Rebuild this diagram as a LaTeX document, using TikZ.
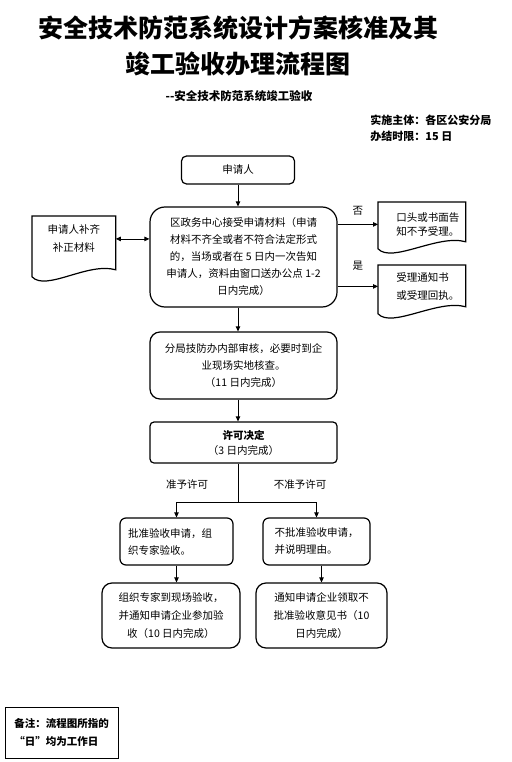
\documentclass[tikz,border=0pt]{standalone}
\usepackage{fontspec}
\setmainfont{Noto Sans CJK SC}
\usetikzlibrary{arrows.meta, positioning, calc}
\tikzset{
  every picture/.style={font=\fontsize{10.5}{17}\selectfont, line width=0.8pt},
  box/.style={draw, rounded corners=#1, align=center, inner sep=3pt, line width=1.2pt},
  box/.default=6pt,
  doc/.style={anchor=north west, inner sep=0pt, align=left},
  docline/.style={line width=1.2pt},
  arrow/.style={-{Triangle[length=5pt, width=4.5pt]}, line width=0.8pt},
  title/.style={font=\fontsize{25}{30}\selectfont\bfseries},
  head/.style={font=\fontsize{11}{16}\selectfont\bfseries, align=left},
  lbl/.style={font=\fontsize{10.5}{12}\selectfont},
}

\begin{document}
\begin{tikzpicture}[x=1pt, y=-1pt]
  \useasboundingbox (0,0) rectangle (511,762);
  % titles
  \node[title, inner sep=0pt] (t1) at (238.5,28) {\makebox[383pt]{安\hfill 全\hfill 技\hfill 术\hfill 防\hfill 范\hfill 系\hfill 统\hfill 设\hfill 计\hfill 方\hfill 案\hfill 核\hfill 准\hfill 及\hfill 其}};
  \node[title] (t2) at (238,64) {竣工验收办理流程图};
  \node[head, font=\fontsize{11.5}{16}\selectfont\bfseries] (sub) at (239,96) {-{}-安全技术防范系统竣工验收};
  \node[head, anchor=north west, inner sep=0pt] (who) at (370,115) {实施主体：各区公安分局\\办结时限：15 日};
  % main column
  \node[box=5pt, minimum width=113pt, minimum height=28pt] (apply) at (238,170) {申请人};
  \node[box=15pt, minimum width=187pt, minimum height=100pt] (accept) at (243.5,257) {区政务中心接受申请材料（申请\\材料不齐全或者不符合法定形式\\的，当场或者在 5 日内一次告知\\申请人，资料由窗口送办公点 1-2\\日内完成）};
  \node[box=10pt, minimum width=187pt, minimum height=67pt] (review) at (243.5,365.5) {分局技防办内部审核，必要时到企\\业现场实地核查。\\（11 日内完成）};
  \node[box=4pt, minimum width=187pt, minimum height=41pt, font=\fontsize{10.5}{15}\selectfont] (decide) at (243.5,442.5) {\textbf{许可决定}\\（3 日内完成）};
  % side documents
  \node[doc, minimum width=83pt, minimum height=45pt, align=center, text width=83pt] (supply) at (32,216) {申请人补齐\\[1pt]补正材料};
  \node[doc, minimum width=87pt, minimum height=44pt, font=\fontsize{10.5}{14}\selectfont] (refuse) at (378,202) {\hspace*{12pt}口头或书面告\\\hspace*{12pt}知不予受理。};
  \node[doc, minimum width=87pt, minimum height=42pt, font=\fontsize{10.5}{18}\selectfont] (notice) at (378,265) {\hspace*{12pt}受理通知书\\\hspace*{12pt}或受理回执。};
  \foreach \n/\e in {supply/15, refuse/2, notice/6}
    \draw[docline] (\n.north west) -- (\n.north east) -- ($(\n.south east)+(0,\e-7)$)
      .. controls ($(\n.south east)+(-28,\e-15)$) and ($(\n.south west)+(14,\e+15)$) .. ($(\n.south west)+(0,\e)$) -- cycle;
  % branches
  \node[box=6pt, minimum width=113pt, minimum height=47pt, text width=97pt, align=left] (grant) at (176.5,541.5) {批准验收申请，组\\织专家验收。};
  \node[box=6pt, minimum width=107pt, minimum height=47pt, align=left] (deny) at (316.5,541.5) {不批准验收申请，\\并说明理由。};
  \node[box=10pt, minimum width=138pt, minimum height=65pt, font=\fontsize{10.5}{18}\selectfont] (grantdo) at (171,615.5) {组织专家到现场验收，\\并通知申请企业参加验\\收（10 日内完成）};
  \node[box=10pt, minimum width=131pt, minimum height=65pt, font=\fontsize{10.5}{18}\selectfont] (denydo) at (321.5,615.5) {通知申请企业领取不\\批准验收意见书（10\\日内完成）};
  \node[lbl] (yes2) at (187,485) {准予许可};
  \node[lbl] (no2) at (300,485) {不准予许可};
  % note
  \node[draw, line width=0.8pt, minimum width=113pt, minimum height=51pt, align=left,
    font=\fontsize{10.5}{18}\selectfont\bfseries] (memo) at (61.5,732.5) {备注：流程图所指的\\“日”均为工作日};
  % connectors
  \draw[arrow] (apply) -- (apply |- accept.north);
  \draw[{Triangle[length=5pt, width=4.5pt]}-{Triangle[length=5pt, width=4.5pt]}] (supply.east) -- (supply.east -| accept.west);
  \draw[arrow] (refuse.west -| accept.east) -- node[midway, above=5pt, lbl] {否} (refuse.west);
  \draw[arrow] (notice.west -| accept.east) -- node[midway, above=12pt, lbl] {是} (notice.west);
  \draw[arrow] (accept.south -| apply) -- (review.north -| apply);
  \draw[arrow] (review.south -| apply) -- (decide.north -| apply);
  \coordinate (fork) at (238,502);
  \draw (decide.south -| fork) -- (fork);
  \draw[arrow] (fork) -| (grant.north);
  \draw[arrow] (fork) -| (deny.north);
  \draw[arrow] (grant.south) -- (grant.south |- grantdo.north);
  \draw[arrow] (deny.south -| denydo.north) -- (denydo.north);
\end{tikzpicture}
\end{document}
